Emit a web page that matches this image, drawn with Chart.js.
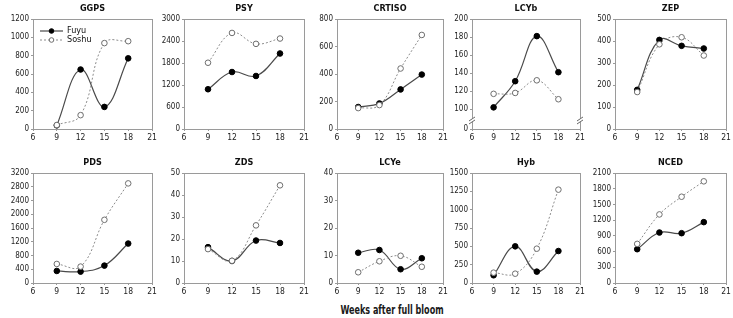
<!DOCTYPE html>
<html>
<head>
<meta charset="utf-8">
<script src="https://cdn.jsdelivr.net/npm/chart.js@4.4.1/dist/chart.umd.min.js"></script>
<style>
  body { margin: 0; background: #fff; }
  #wrap { position: relative; width: 733px; height: 318px; overflow: hidden; }
  canvas { position: absolute; }
  #xtitle {
    position: absolute; left: 242px; width: 300px; top: 302px; text-align: center;
    font: bold 13px "DejaVu Sans Condensed", sans-serif; color: #1a1a1a;
    transform: scaleX(0.69); transform-origin: center;
  }
</style>
</head>
<body>
<div id="wrap">
  <div id="xtitle">Weeks after full bloom</div>
</div>
<script>
// ── Data ───────────────────────────────────────────────────────────────────

const WEEKS   = [9, 12, 15, 18];
const X_TICKS = [6, 9, 12, 15, 18, 21];

const GGPS_FUYU    = [40, 649, 241, 771];
const GGPS_SOSHU   = [43, 151, 937, 958];
const PSY_FUYU     = [1084, 1554, 1446, 2060];
const PSY_SOSHU    = [1807, 2620, 2322, 2467];
const CRTISO_FUYU  = [160, 186, 288, 396];
const CRTISO_SOSHU = [152, 174, 440, 684];
const LCYB_FUYU    = [102, 131, 181, 141];
const LCYB_SOSHU   = [117, 118, 132, 111];
const ZEP_FUYU     = [178, 405, 378, 366];
const ZEP_SOSHU    = [168, 385, 417, 334];
const PDS_FUYU     = [350, 331, 506, 1148];
const PDS_SOSHU    = [554, 477, 1838, 2898];
const ZDS_FUYU     = [16.3, 10, 19.3, 18.2];
const ZDS_SOSHU    = [15.4, 10.1, 26.2, 44.4];
const LCYE_FUYU    = [11, 12, 5, 9];
const LCYE_SOSHU   = [3.9, 7.9, 9.9, 5.9];
const HYB_FUYU     = [105, 500, 155, 436];
const HYB_SOSHU    = [141, 127, 468, 1273];
const NCED_FUYU    = [645, 964, 951, 1162];
const NCED_SOSHU   = [747, 1309, 1647, 1941];

const GGPS_Y   = [0, 200, 400, 600, 800, 1000, 1200];
const PSY_Y    = [0, 600, 1200, 1800, 2400, 3000];
const CRTISO_Y = [0, 200, 400, 600, 800];
const LCYB_Y   = [0, 100, 120, 140, 160, 180, 200];   // broken axis: 0 sits below 100
const LCYB_BREAK_FLOOR = 78;                           // value drawn at the "0" position
const ZEP_Y    = [0, 100, 200, 300, 400, 500];
const PDS_Y    = [0, 400, 800, 1200, 1600, 2000, 2400, 2800, 3200];
const ZDS_Y    = [0, 10, 20, 30, 40, 50];
const LCYE_Y   = [0, 10, 20, 30, 40];
const HYB_Y    = [0, 250, 500, 750, 1000, 1250, 1500];
const NCED_Y   = [0, 300, 600, 900, 1200, 1500, 1800, 2100];

const SERIES = ["Fuyu", "Soshu"];

// ── Layout ─────────────────────────────────────────────────────────────────

const COL_LEFT   = [33, 184, 337, 472, 615];
const COL_RIGHT  = [152, 304, 443, 580, 726];
const ROW_TOP    = [19, 173];
const ROW_BOTTOM = [129, 283];
const Y_AXIS_W   = 32;
const X_AXIS_H   = 18;
const PAD_TOP    = 19;
const PAD_RIGHT  = 7;

const FONT = "'DejaVu Sans Condensed', sans-serif";
const FRAME = "#9a9a9a";

const PANELS = [
  { title: "GGPS",   fuyu: GGPS_FUYU,   soshu: GGPS_SOSHU,   yTicks: GGPS_Y,   col: 0, row: 0, legend: true },
  { title: "PSY",    fuyu: PSY_FUYU,    soshu: PSY_SOSHU,    yTicks: PSY_Y,    col: 1, row: 0 },
  { title: "CRTISO", fuyu: CRTISO_FUYU, soshu: CRTISO_SOSHU, yTicks: CRTISO_Y, col: 2, row: 0 },
  { title: "LCYb",   fuyu: LCYB_FUYU,   soshu: LCYB_SOSHU,   yTicks: LCYB_Y,   col: 3, row: 0, floor: LCYB_BREAK_FLOOR },
  { title: "ZEP",    fuyu: ZEP_FUYU,    soshu: ZEP_SOSHU,    yTicks: ZEP_Y,    col: 4, row: 0 },
  { title: "PDS",    fuyu: PDS_FUYU,    soshu: PDS_SOSHU,    yTicks: PDS_Y,    col: 0, row: 1 },
  { title: "ZDS",    fuyu: ZDS_FUYU,    soshu: ZDS_SOSHU,    yTicks: ZDS_Y,    col: 1, row: 1 },
  { title: "LCYe",   fuyu: LCYE_FUYU,   soshu: LCYE_SOSHU,   yTicks: LCYE_Y,   col: 2, row: 1 },
  { title: "Hyb",    fuyu: HYB_FUYU,    soshu: HYB_SOSHU,    yTicks: HYB_Y,    col: 3, row: 1 },
  { title: "NCED",   fuyu: NCED_FUYU,   soshu: NCED_SOSHU,   yTicks: NCED_Y,   col: 4, row: 1 },
];

// ── Plugins ────────────────────────────────────────────────────────────────

const framePlugin = {
  id: "frame",
  afterDraw(chart, args, opts) {
    const { ctx, chartArea: a } = chart;
    ctx.save();
    ctx.strokeStyle = FRAME;
    ctx.lineWidth = 1;
    ctx.strokeRect(Math.round(a.left) + 0.5, Math.round(a.top) + 0.5,
                   Math.round(a.right - a.left), Math.round(a.bottom - a.top));
    // panel title
    ctx.fillStyle = "#111";
    ctx.font = `bold 9px ${FONT}`;
    ctx.textAlign = "center";
    ctx.textBaseline = "middle";
    ctx.fillText(opts.title, (a.left + a.right) / 2, a.top - 10);
    // axis break marks
    if (opts.breakAt != null) {
      const y = chart.scales.y.getPixelForValue(opts.breakAt);
      [a.left, a.right].forEach(x => {
        ctx.fillStyle = "#fff";
        ctx.fillRect(x - 3, y - 2, 7, 4);
        ctx.strokeStyle = "#666";
        ctx.beginPath();
        ctx.moveTo(x - 3, y + 1); ctx.lineTo(x + 3, y - 3);
        ctx.moveTo(x - 3, y + 4); ctx.lineTo(x + 3, y);
        ctx.stroke();
      });
    }
    ctx.restore();
  },
};

const legendPlugin = {
  id: "insideLegend",
  afterDraw(chart, args, opts) {
    if (!opts.show) return;
    const { ctx, chartArea: a } = chart;
    ctx.save();
    ctx.font = `9px ${FONT}`;
    ctx.textBaseline = "middle";
    ctx.textAlign = "left";
    chart.data.datasets.slice().sort((p, q) => p.legendIdx - q.legendIdx).forEach((ds, i) => {
      const y = a.top + 12 + i * 9;
      const x0 = a.left + 7, x1 = a.left + 30;
      ctx.strokeStyle = ds.borderColor;
      ctx.lineWidth = ds.borderWidth;
      ctx.setLineDash(ds.borderDash || []);
      ctx.beginPath(); ctx.moveTo(x0, y); ctx.lineTo(x1, y); ctx.stroke();
      ctx.setLineDash([]);
      ctx.beginPath();
      ctx.arc((x0 + x1) / 2, y, ds.pointRadius - 0.5, 0, Math.PI * 2);
      ctx.fillStyle = ds.pointBackgroundColor;
      ctx.fill();
      ctx.strokeStyle = ds.pointBorderColor;
      ctx.lineWidth = 1;
      ctx.stroke();
      ctx.fillStyle = "#111";
      ctx.fillText(ds.label, x1 + 4, y);
    });
    ctx.restore();
  },
};

// ── Panels ─────────────────────────────────────────────────────────────────

function toPoints(values) {
  return WEEKS.map((w, i) => ({ x: w, y: values[i] }));
}

const AXIS_GRID = { display: true, drawOnChartArea: false, drawTicks: true, tickLength: 2, color: FRAME };

function makePanel(p) {
  const L = COL_LEFT[p.col], R = COL_RIGHT[p.col];
  const T = ROW_TOP[p.row],  B = ROW_BOTTOM[p.row];
  const canvas = document.createElement("canvas");
  const w = (R - L) + Y_AXIS_W + PAD_RIGHT;
  const h = (B - T) + PAD_TOP + X_AXIS_H;
  canvas.width = w; canvas.height = h;
  canvas.style.left = (L - Y_AXIS_W) + "px";
  canvas.style.top  = (T - PAD_TOP) + "px";
  canvas.style.width = w + "px"; canvas.style.height = h + "px";
  document.getElementById("wrap").appendChild(canvas);

  const yMin = p.floor != null ? p.floor : p.yTicks[0];
  const yMax = p.yTicks[p.yTicks.length - 1];
  const yVals = p.yTicks.map(v => (p.floor != null && v === 0 ? p.floor : v));

  new Chart(canvas.getContext("2d"), {
    type: "line",
    data: {
      datasets: [
        { label: SERIES[1], legendIdx: 1, order: 0, data: toPoints(p.soshu),
          borderColor: "#8c8c8c", borderWidth: 1, borderDash: [2, 2], tension: 0.4,
          pointRadius: 2.8, pointBackgroundColor: "#fff", pointBorderColor: "#6e6e6e", pointBorderWidth: 1 },
        { label: SERIES[0], legendIdx: 0, order: 1, data: toPoints(p.fuyu),
          borderColor: "#4a4a4a", borderWidth: 1.2, tension: 0.4,
          pointRadius: 2.8, pointBackgroundColor: "#000", pointBorderColor: "#000", pointBorderWidth: 1 },
      ],
    },
    options: {
      responsive: false,
      animation: false,
      clip: false,
      layout: { padding: { top: PAD_TOP, right: PAD_RIGHT, left: 0, bottom: 0 } },
      plugins: {
        legend: { display: false },
        tooltip: { enabled: false },
        frame: { title: p.title, breakAt: p.floor != null ? (p.floor + 100) / 2 - 1 : null },
        insideLegend: { show: !!p.legend },
      },
      scales: {
        x: {
          type: "linear", min: 6, max: 21,
          afterBuildTicks: s => { s.ticks = X_TICKS.map(v => ({ value: v })); },
          afterFit: s => { s.height = X_AXIS_H; },
          grid: AXIS_GRID,
          border: { color: FRAME },
          ticks: { color: "#222", font: { family: FONT, size: 8.5 }, padding: 2, maxRotation: 0, autoSkip: false },
        },
        y: {
          min: yMin, max: yMax,
          afterBuildTicks: s => { s.ticks = yVals.map(v => ({ value: v })); },
          afterFit: s => { s.width = Y_AXIS_W; },
          grid: AXIS_GRID,
          border: { color: FRAME },
          ticks: {
            color: "#222", font: { family: FONT, size: 8 }, padding: 2, autoSkip: false,
            callback: v => (p.floor != null && v === p.floor ? "0" : v),
          },
        },
      },
    },
    plugins: [framePlugin, legendPlugin],
  });
}

PANELS.forEach(makePanel);
</script>
</body>
</html>
